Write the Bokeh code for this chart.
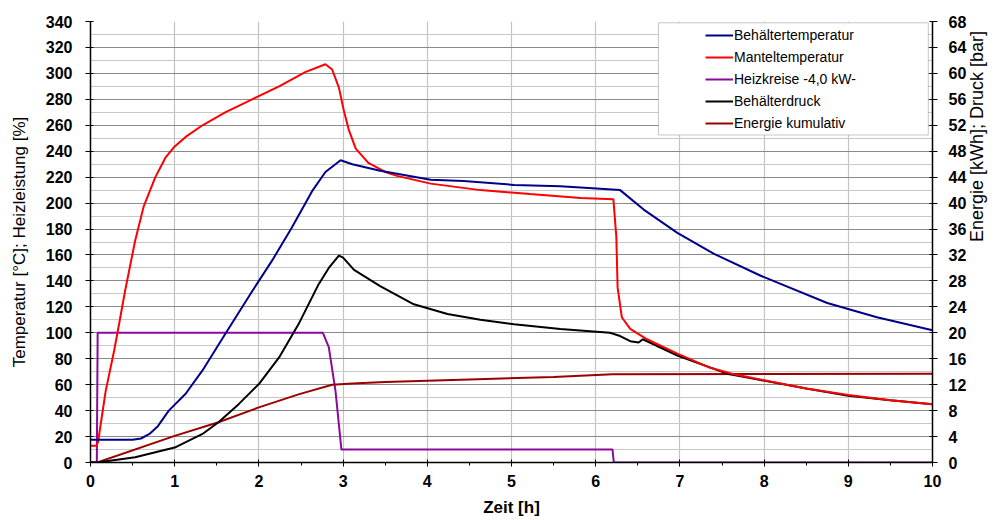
import math
from bokeh.plotting import figure
from bokeh.models import (Range1d, LinearAxis, SingleIntervalTicker, Legend,
                          LegendItem, BoxAnnotation)
from bokeh.embed import file_html
from bokeh.resources import INLINE

# ---------------- data ----------------
# Behältertemperatur [°C] (left axis)
blue_x = [0, 0.5, 0.6, 0.7, 0.8, 0.93, 1.13, 1.33, 1.6, 1.92, 2.16, 2.39, 2.63,
          2.79, 2.97, 3.11, 3.44, 4.04, 4.43, 5.03, 5.58, 5.82, 6.29, 6.57, 6.97,
          7.4, 7.96, 8.75, 9.34, 10]
blue_y = [17.5, 17.5, 18.5, 22, 28, 40, 53, 71, 99, 132, 156, 181, 209,
          224, 233, 230, 225, 218, 217, 214, 213, 212, 210, 195, 177,
          161, 144, 123, 112, 102]

# Manteltemperatur [°C] (left axis)
red_x = [0, 0.07, 0.09, 0.18, 0.28, 0.34, 0.41, 0.53, 0.63, 0.77, 0.89, 0.99,
         1.13, 1.33, 1.6, 1.92, 2.24, 2.55, 2.79, 2.87, 2.95, 3.01, 3.07, 3.15,
         3.3, 3.5, 3.64, 4.04, 4.63, 5.22, 5.82, 6.21, 6.245, 6.26, 6.31, 6.41,
         6.61, 6.97, 7.36, 7.64, 8.03, 8.5, 9.0, 9.5, 10]
red_y = [13, 13, 16, 55, 86, 107, 132, 171, 197, 220, 235, 243,
         251, 260, 270, 280, 290, 301, 307, 303, 289, 271, 256, 242,
         231, 224, 221, 215, 210, 207, 204, 203, 174, 135, 112, 103,
         95, 84, 73, 68, 63, 57, 52, 48, 45]

# Heizkreise -4,0 kW- [%] (left axis)
purple_x = [0, 0.075, 0.085, 2.76, 2.83, 2.91, 2.98, 6.2, 6.215, 10]
purple_y = [0, 0, 100, 100, 89, 55, 10, 10, 0, 0]

# Behälterdruck [bar] (right axis)
black_x = [0, 0.08, 0.53, 1.0, 1.33, 1.52, 1.76, 2.0, 2.24, 2.47, 2.71, 2.83,
           2.95, 3.0, 3.13, 3.44, 3.84, 4.24, 4.63, 5.03, 5.58, 6.17, 6.29,
           6.41, 6.51, 6.56, 6.97, 7.56, 7.88, 8.5, 9.0, 9.5, 10]
black_y = [0, 0, 0.8, 2.3, 4.4, 6.2, 9.0, 12.1, 16.2, 21.3, 27.5, 30.0,
           31.9, 31.6, 29.7, 27.2, 24.4, 22.9, 22.0, 21.3, 20.6, 20.0, 19.5,
           18.7, 18.5, 19.0, 16.5, 13.7, 12.9, 11.4, 10.3, 9.6, 9.0]

# Energie kumulativ [kWh] (right axis)
energy_x = [0, 0.08, 1.0, 1.52, 2.0, 2.47, 2.87, 3.11, 3.5, 4.5, 5.5, 6.2, 10]
energy_y = [0, 0, 4.1, 6.2, 8.5, 10.5, 12.0, 12.2, 12.4, 12.8, 13.2, 13.6, 13.7]

labels = ["Behältertemperatur", "Manteltemperatur", "Heizkreise -4,0 kW-",
          "Behälterdruck", "Energie kumulativ"]

FONT = "Liberation Sans"

p = figure(width=1000, height=520, output_backend="svg", toolbar_location=None,
           x_range=Range1d(0, 10), y_range=Range1d(0, 340),
           min_border_left=90, min_border_right=68, min_border_top=21,
           min_border_bottom=58)
p.outline_line_color = None
p.background_fill_color = "white"
p.border_fill_color = "white"

p.extra_y_ranges = {"r": Range1d(0, 68)}

# left axis
yt = SingleIntervalTicker(interval=20, num_minor_ticks=2)
ya = p.yaxis[0]
ya.ticker = yt
ya.axis_label = "Temperatur [°C]; Heizleistung [%]"
ya.axis_label_text_font = FONT
ya.axis_label_text_font_size = "17px"
ya.axis_label_text_font_style = "normal"
ya.axis_label_text_color = "black"
ya.axis_label_standoff = 14
ya.major_label_text_font = FONT
ya.major_label_text_font_size = "16px"
ya.major_label_text_font_style = "bold"
ya.major_label_text_color = "black"
ya.major_label_standoff = 13
ya.major_tick_out = 5
ya.major_tick_in = 3
ya.minor_tick_line_color = None
ya.axis_line_color = "black"
ya.axis_line_width = 1.5

p.ygrid.ticker = yt
p.ygrid.grid_line_color = "#8a8a8a"
p.ygrid.grid_line_width = 1.2
p.ygrid.minor_grid_line_color = "#c8c8c8"
p.ygrid.minor_grid_line_width = 1.2

# bottom axis
xt = SingleIntervalTicker(interval=1, num_minor_ticks=2)
xa = p.xaxis[0]
xa.ticker = xt
xa.axis_label = "Zeit [h]"
xa.axis_label_text_font = FONT
xa.axis_label_text_font_size = "17px"
xa.axis_label_text_font_style = "bold"
xa.axis_label_text_color = "black"
xa.axis_label_standoff = 8
xa.major_label_text_font = FONT
xa.major_label_text_font_size = "16px"
xa.major_label_text_font_style = "bold"
xa.major_label_text_color = "black"
xa.major_label_standoff = 8
xa.major_tick_out = 4
xa.major_tick_in = 3
xa.minor_tick_out = 3
xa.minor_tick_in = 0
xa.axis_line_color = "black"
xa.axis_line_width = 1.5
p.xgrid.ticker = xt
p.xgrid.grid_line_color = "#c4c4c4"
p.xgrid.grid_line_width = 1.2

# right axis
ra = LinearAxis(y_range_name="r", ticker=SingleIntervalTicker(interval=4),
                axis_label="Energie [kWh]; Druck [bar]")
ra.axis_label_orientation = math.pi / 2
ra.axis_label_text_font = FONT
ra.axis_label_text_font_size = "18px"
ra.axis_label_text_font_style = "normal"
ra.axis_label_text_color = "black"
ra.axis_label_standoff = 8
ra.major_label_text_font = FONT
ra.major_label_text_font_size = "16px"
ra.major_label_text_font_style = "bold"
ra.major_label_text_color = "black"
ra.major_label_standoff = 11
ra.major_tick_out = 5
ra.major_tick_in = 3
ra.minor_tick_line_color = None
ra.axis_line_color = "black"
ra.axis_line_width = 1.5
p.add_layout(ra, "right")

# lines
LW = 2
r_purple = p.line(purple_x, purple_y, line_color="#8B0A9A", line_width=LW)
r_energy = p.line(energy_x, energy_y, line_color="#9B0000", line_width=LW, y_range_name="r")
r_black = p.line(black_x, black_y, line_color="black", line_width=LW, y_range_name="r")
r_red = p.line(red_x, red_y, line_color="#FF0000", line_width=LW)
r_blue = p.line(blue_x, blue_y, line_color="#00008B", line_width=LW)

# legend frame
box = BoxAnnotation(left=6.745, right=9.95, top=339.0, bottom=252.5,
                    fill_color="white", fill_alpha=1.0,
                    line_color="#444444", line_width=1)
p.add_layout(box)

items = [LegendItem(label=l, renderers=[r]) for l, r in
         zip(labels, [r_blue, r_red, r_purple, r_black, r_energy])]
legend = Legend(items=items, location=(615, 329), padding=2, spacing=2,
                margin=0, glyph_width=28, glyph_height=20, label_height=20,
                label_standoff=1, label_text_font=FONT,
                label_text_font_size="14px", label_text_color="black",
                border_line_color=None, background_fill_alpha=0.0)
p.add_layout(legend)

open("out.html", "w").write(file_html(p, INLINE))
